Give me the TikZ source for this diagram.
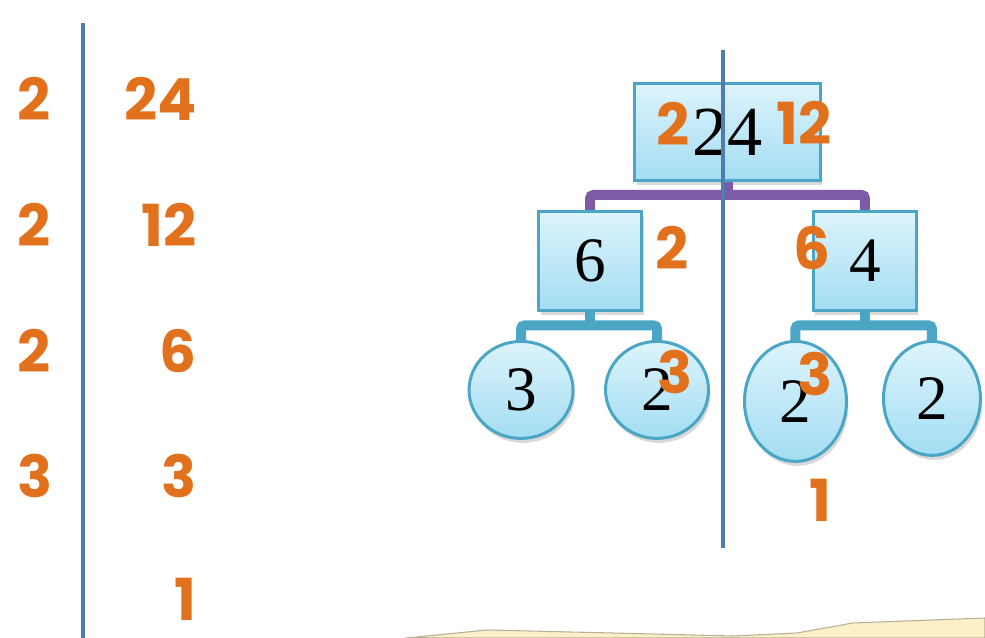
\documentclass[tikz,border=0pt]{standalone}
\usepackage{fontspec}
\setmainfont{Liberation Serif}
\newfontfamily\numfont{Poppins}
\usetikzlibrary{positioning,shapes.geometric,shadows}

\definecolor{numorange}{HTML}{E2711D}
\definecolor{axisblue}{HTML}{4F7DAF}
\definecolor{boxedge}{HTML}{4BA6C6}
\definecolor{boxtop}{HTML}{DDF4FC}
\definecolor{boxbot}{HTML}{A3DDF2}
\definecolor{barpurple}{HTML}{7D5BA6}
\definecolor{sandfill}{HTML}{FBF0C6}
\definecolor{sandedge}{HTML}{B9AE98}

\tikzset{
  factor/.style={text=numorange, inner sep=0pt, font=\numfont\bfseries\fontsize{33}{33}\selectfont},
  treebox/.style={draw=boxedge, line width=1.7pt, top color=boxtop, bottom color=boxbot,
    inner sep=0pt, font=\fontsize{36}{36}\selectfont,
    drop shadow={shadow xshift=0.4mm, shadow yshift=-0.9mm, opacity=0.3}},
  leaf/.style={treebox, ellipse},
  link/.style={line width=5.7pt, rounded corners=2pt},
  guide/.style={draw=axisblue, line width=2pt}
}

\begin{document}
\begin{tikzpicture}[x=0.02cm, y=-0.02cm]
\useasboundingbox (0,0) rectangle (985,638);

% ladder division
\node[factor] (d1) at (34,99) {2};
\node[factor, anchor=east] (q1) at (197,99) {24};
\node[factor] (d2) at (34,225) {2};
\node[factor, anchor=east] (q2) at (197,225) {12};
\node[factor] (d3) at (34,351) {2};
\node[factor, anchor=east] (q3) at (197,351) {6};
\node[factor] (d4) at (35,476) {3};
\node[factor, anchor=east] (q4) at (197,476) {3};
\node[factor, anchor=east] (q5) at (197,599) {1};
\draw[guide] (83,23) -- (83,638);

% sand strip
\draw[draw=sandedge, fill=sandfill, line width=0.6pt] (405,638) -- (417,637) -- (487,630) -- (613,633) -- (733,636) -- (797,633) -- (853,623) -- (985,618) -- (985,638) -- cycle;

% factor tree
\node[treebox, minimum width=3.72cm, minimum height=1.94cm, font=\fontsize{40}{40}\selectfont] (root) at (727.5,132) {24};
\node[treebox, minimum width=2.06cm, minimum height=1.98cm] (left) [below=0.56cm of root, xshift=-2.75cm] {6};
\node[treebox, minimum width=2.06cm, minimum height=1.98cm] (right) [below=0.56cm of root, xshift=2.75cm] {4};
\node[leaf, minimum width=2.08cm, minimum height=1.94cm] (ll) [below=0.56cm of left, xshift=-1.38cm] {3};
\node[leaf, minimum width=2.06cm, minimum height=1.94cm] (lr) [below=0.56cm of left, xshift=1.34cm] {2};
\node[leaf, minimum width=2.04cm, minimum height=2.4cm] (rl) [below=0.56cm of right, xshift=-1.39cm] {2};
\node[leaf, minimum width=1.94cm, minimum height=2.28cm] (rr) [below=0.56cm of right, xshift=1.34cm] {2};

\coordinate (rootjoin) at ([yshift=-0.26cm]root.south);
\coordinate (leftjoin) at ([yshift=-0.27cm]left.south);
\coordinate (rightjoin) at ([yshift=-0.27cm]right.south);
\draw[link, draw=barpurple] (left.north) |- (rootjoin) -| (right.north);
\draw[link, draw=barpurple, rounded corners=0pt] (root.south) -- (rootjoin);
\draw[link, draw=boxedge] (ll.north) |- (leftjoin) -| (lr.north);
\draw[link, draw=boxedge, rounded corners=0pt] (left.south) -- (leftjoin);
\draw[link, draw=boxedge] (rl.north) |- (rightjoin) -| (rr.north);
\draw[link, draw=boxedge, rounded corners=0pt] (right.south) -- (rightjoin);

% orange working
\node[factor] (r2) at (673,124) {2};
\node[factor] (r12) at (804,123) {12};
\node[factor] (l2) at (672,248) {2};
\node[factor] (r6) at (812,248) {6};
\node[factor] (lr3) at (675,372) {3};
\node[factor] (rl3) at (815,374) {3};
\node[factor] (rl1) at (820,500) {1};

\draw[guide] (723,50) -- (723,548);
\end{tikzpicture}
\end{document}
